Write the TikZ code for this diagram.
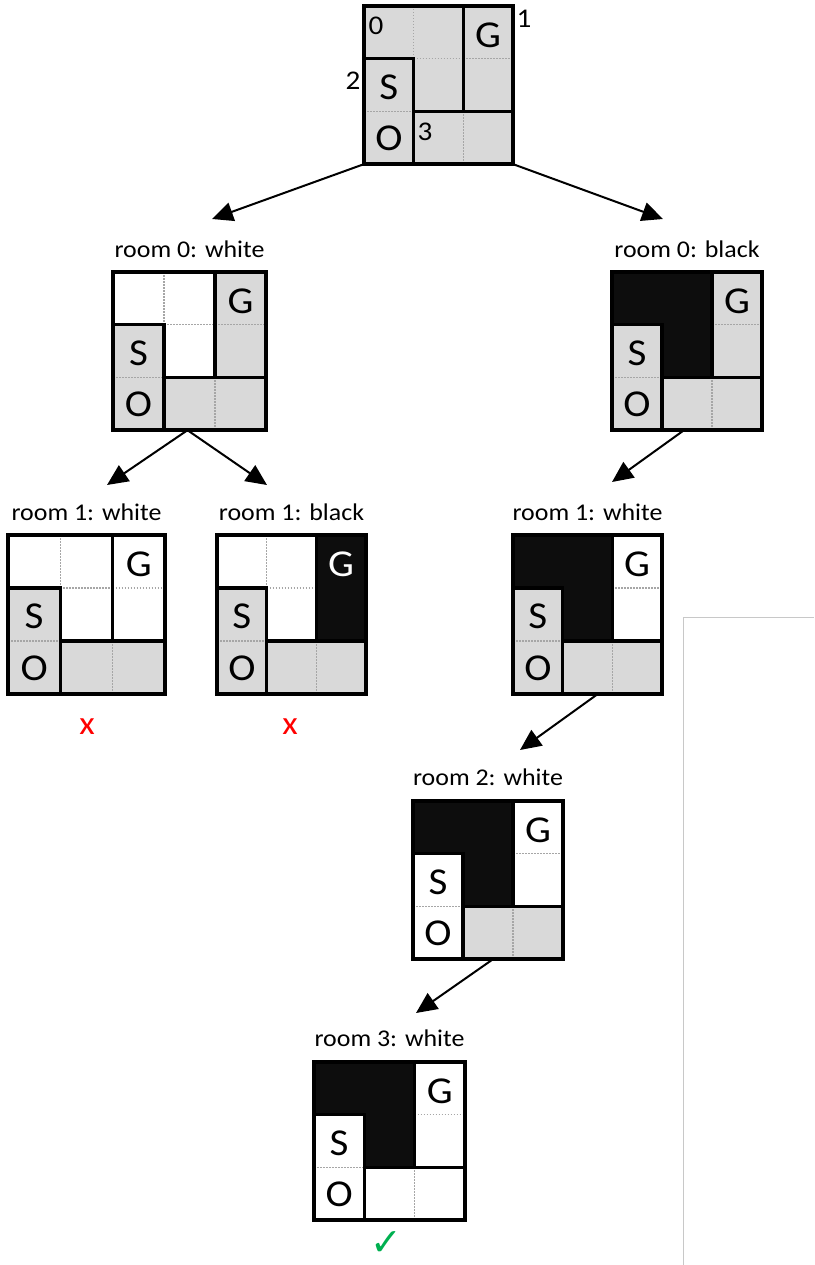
\documentclass[tikz,border=0pt]{standalone}
\usepackage{fontspec}
\setmainfont{Carlito}[FakeStretch=1.08]
\newfontfamily\symbolfont{DejaVu Sans}
\usetikzlibrary{arrows.meta}

% cell fills
\definecolor{cellgray}{HTML}{D9D9D9}
\definecolor{cellwhite}{HTML}{FFFFFF}
\definecolor{cellblack}{HTML}{0D0D0D}
% letter colour on each fill
\colorlet{inkcellgray}{black}
\colorlet{inkcellwhite}{black}
\colorlet{inkcellblack}{white}
% dotted cell separators on each fill
\definecolor{dotgray}{HTML}{A6A6A6}
\colorlet{dotcellgray}{dotgray}
\colorlet{dotcellwhite}{dotgray}
\colorlet{dotcellblack}{cellblack}
\definecolor{failred}{HTML}{FF0000}
\definecolor{okgreen}{HTML}{00B050}
\definecolor{panelgray}{HTML}{C8C8C8}

\tikzset{
  wall/.style={line width=3.4pt, line join=miter},
  celldots/.style={line width=1.1pt, dash pattern=on 1.5pt off 1.5pt},
  letter/.style={inner sep=0pt, font=\fontsize{38}{38}\selectfont},
  gridframe/.style={rectangle, inner sep=0pt, draw=none},
  title/.style={inner sep=0pt, anchor=base, font=\fontsize{24}{24}\selectfont},
  roomnum/.style={inner sep=0pt, font=\fontsize{27}{27}\selectfont},
  link/.style={line width=2pt, -{Triangle[length=21pt,width=19pt]}},
  verdict/.style={inner sep=0pt},
}

% \roomgrid{name}{left}{top}{width}{height}{room0}{room1}{room2}{room3}
\newcommand\roomgrid[9]{%
  \begin{scope}[shift={(#2,#3)}, xscale=#4/3, yscale=#5/3]
    \fill[#6] (0,0) -- (2,0) -- (2,2) -- (1,2) -- (1,1) -- (0,1) -- cycle;
    \fill[#7] (2,0) rectangle (3,2);
    \fill[#8] (0,1) rectangle (1,3);
    \fill[#9] (1,2) rectangle (3,3);
    \draw[celldots, draw=dot#6] (1,0) -- (1,1) (1,1) -- (2,1);
    \draw[celldots, draw=dot#7] (2,1) -- (3,1);
    \draw[celldots, draw=dot#8] (0,2) -- (1,2);
    \draw[celldots, draw=dot#9] (2,2) -- (2,3);
    \draw[wall] (0,1) -| (1,3) (2,0) -- (2,2) (1,2) -- (3,2);
    \draw[wall] (0,0) rectangle (3,3);
    \node[letter, text=ink#7] (#1-G) at (2.5,0.56) {G};
    \node[letter, text=ink#8] (#1-S) at (0.5,1.54) {S};
    \node[letter, text=ink#8] (#1-O) at (0.5,2.52) {O};
    \node[gridframe, minimum width=#4pt, minimum height=#5pt] (#1) at (1.5,1.5) {};
  \end{scope}}

\begin{document}
\begin{tikzpicture}[x=1pt, y=-1pt]
  \useasboundingbox (0,0) rectangle (814,1265);

  % start state
  \roomgrid{top}{364}{6}{149}{158}{cellgray}{cellgray}{cellgray}{cellgray}
  \node[roomnum] (num0) at (376,26) {0};
  \node[roomnum] (num1) at (524,19) {1};
  \node[roomnum] (num2) at (353,81) {2};
  \node[roomnum] (num3) at (425,132) {3};

  % first choice
  \roomgrid{r0w}{113}{272}{153}{158}{cellwhite}{cellgray}{cellgray}{cellgray}
  \roomgrid{r0b}{612}{272}{150}{158}{cellblack}{cellgray}{cellgray}{cellgray}
  \node[title] (t-r0w) at ([yshift=14pt]r0w.north) {room 0: white};
  \node[title] (t-r0b) at ([yshift=14pt]r0b.north) {room 0: black};

  % second choice
  \roomgrid{r1a}{8}{535}{157}{159}{cellwhite}{cellwhite}{cellgray}{cellgray}
  \roomgrid{r1b}{217}{535}{149}{159}{cellwhite}{cellblack}{cellgray}{cellgray}
  \roomgrid{r1c}{513}{535}{149}{159}{cellblack}{cellwhite}{cellgray}{cellgray}
  \node[title] (t-r1a) at ([yshift=14pt]r1a.north) {room 1: white};
  \node[title] (t-r1b) at ([yshift=14pt]r1b.north) {room 1: black};
  \node[title] (t-r1c) at ([yshift=14pt]r1c.north) {room 1: white};

  % third and fourth choices
  \roomgrid{r2}{413}{801}{150}{158}{cellblack}{cellwhite}{cellwhite}{cellgray}
  \roomgrid{r3}{314}{1062}{151}{158}{cellblack}{cellwhite}{cellwhite}{cellwhite}
  \node[title] (t-r2) at ([yshift=15pt]r2.north) {room 2: white};
  \node[title] (t-r3) at ([yshift=15pt]r3.north) {room 3: white};

  % outcomes
  \node[verdict, text=failred, font=\fontsize{33}{33}\selectfont] (fail-a) at (87,727) {x};
  \node[verdict, text=failred, font=\fontsize{33}{33}\selectfont] (fail-b) at (290,727) {x};
  \node[verdict, text=okgreen, font=\symbolfont\fontsize{38}{38}\selectfont] (ok) at (386,1244) {✓};

  % arrow tips
  \coordinate (tipA) at (212,219);
  \coordinate (tipB) at (663,219);
  \coordinate (tipC) at (107,485);
  \coordinate (tipD) at (267,485);
  \coordinate (tipE) at (612,482);
  \coordinate (tipF) at (520,750);
  \coordinate (tipG) at (416,1013);

  \draw[link] (top.south west) -- (tipA);
  \draw[link] (top.south east) -- (tipB);
  \draw[link] ([xshift=-2pt]r0w.south) -- (tipC);
  \draw[link] ([xshift=-2pt]r0w.south) -- (tipD);
  \draw[link] ([xshift=-3pt]r0b.south) -- (tipE);
  \draw[link] ([xshift=10pt]r1c.south) -- (tipF);
  \draw[link] ([xshift=5pt]r2.south) -- (tipG);

  % panel edge at the lower right
  \draw[panelgray, line width=1pt] (683,1265) -- (683,617) -- (814,617);
\end{tikzpicture}
\end{document}
